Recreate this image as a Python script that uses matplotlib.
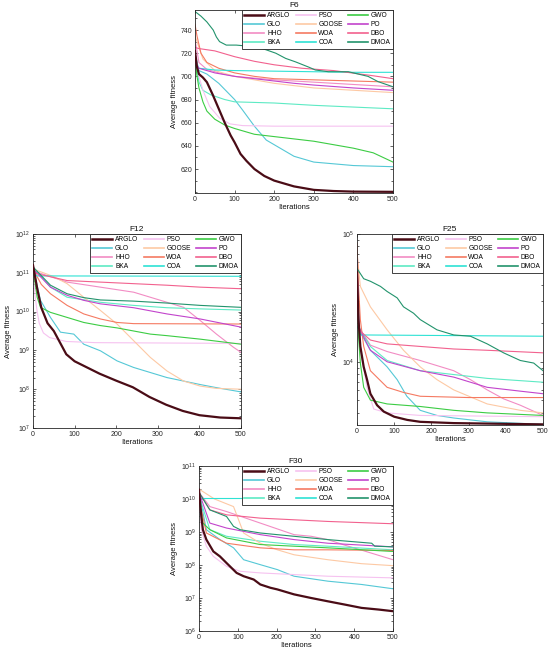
import numpy as np
import matplotlib
matplotlib.use("Agg")
import matplotlib.pyplot as plt
from matplotlib.ticker import AutoMinorLocator, LogLocator, NullFormatter

plt.rcParams['font.family'] = ['Liberation Sans', 'DejaVu Sans']
plt.rcParams['mathtext.fontset'] = 'custom'
plt.rcParams['mathtext.rm'] = 'Liberation Sans'
plt.rcParams['mathtext.it'] = 'Liberation Sans'

algorithms = ["ARGLO", "GLO", "HHO", "BKA", "PSO", "GOOSE", "WOA", "COA", "GWO", "PO", "DBO", "DMOA"]
colors = {
    "ARGLO": "#4a0c16", "GLO": "#55c8d6", "HHO": "#f28cc4", "BKA": "#5eeac4",
    "PSO": "#f6c2f0", "GOOSE": "#fdc9a4", "WOA": "#f57a62", "COA": "#2ee2d4",
    "GWO": "#3ccc44", "PO": "#c244cc", "DBO": "#f2618e", "DMOA": "#22936c",
}

# ---- F6 (linear values) : name -> (iterations, average fitness)
F6 = {
    "ARGLO": ([0,5,10,20,30,45,60,75,90,100,115,130,150,175,200,250,300,350,400,500],
              [722,708,702,699,695,684,672,660,649,643,633,627,620,614,610,605,602,601,600.5,600.3]),
    "GLO": ([0,10,30,60,100,120,150,180,220,250,300,400,500],
            [720,705,702,694,680,671,657,645,637,631,626,623,622]),
    "HHO": ([0,10,30,60,100,200,300,400,500], [732,712,706,703,700,697,695,693,691]),
    "BKA": ([0,10,20,40,75,100,200,300,400,500], [716,695,688,684,680,678,677,675,673.5,672]),
    "PSO": ([0,10,20,37,62,88,120,200,500], [720,700,688,674,664,659,657.5,657,657]),
    "GOOSE": ([0,20,50,100,150,200,250,300,400,500], [735,715,705,700,697,694,692,690,688,686]),
    "WOA": ([0,5,15,30,60,100,150,200,300,400,500], [745,735,720,712,707,703,700,698,697,696,695]),
    "COA": ([0,10,50,100,200,300,400,500], [712,707,705.5,705,704.5,704,703.5,703.5]),
    "GWO": ([0,5,10,20,30,50,75,100,150,200,250,300,350,400,450,500],
            [716,700,690,678,670,663,658,655,650,648,646,644,641,638,634,626]),
    "PO": ([0,10,30,50,100,150,200,250,300,400,500], [712,707,705,703,700,698,696,694,692.5,690,688]),
    "DBO": ([0,10,50,100,150,200,270,350,440,500], [725,724,722,717,713,710,707,705,701,698]),
    "DMOA": ([0,15,30,46,54,62,79,104,154,179,204,229,254,287,304,337,387,437,462,500],
             [756,752,747,740,734,730,727,727,725.5,723,720,715.5,712.5,708,705.5,704,704,700,695.5,691]),
}

# ---- F12 (log10 of average fitness)
F12_log10 = {
    "ARGLO": ([0,5,10,20,35,50,65,80,100,130,160,200,240,280,320,360,400,450,500],
              [11.2,10.9,10.6,10.1,9.7,9.5,9.2,8.9,8.72,8.56,8.4,8.22,8.05,7.8,7.6,7.44,7.33,7.27,7.25]),
    "GLO": ([0,18,42,66,98,122,162,202,242,282,322,362,402,441,500],
            [11.15,10.29,9.85,9.47,9.42,9.16,8.99,8.73,8.56,8.43,8.3,8.21,8.12,8.04,7.93]),
    "HHO": ([0,82,162,242,282,322,362,402,441,482,500],
            [11.05,10.76,10.63,10.5,10.37,10.24,10.11,9.77,9.42,9.08,8.95]),
    "BKA": ([0,42,82,162,242,322,402,500], [11.15,10.63,10.37,10.24,10.16,10.1,10.07,10.04]),
    "PSO": ([0,5,10,15,25,40,80,150,500], [11.1,10.4,10.0,9.7,9.45,9.33,9.23,9.2,9.18]),
    "GOOSE": ([0,50,82,122,162,202,242,282,322,362,402,441,500],
              [11.1,10.9,10.72,10.37,10.03,9.68,9.25,8.82,8.47,8.21,8.08,8.02,8.0]),
    "WOA": ([0,10,20,42,82,122,162,202,242,500], [11.1,10.9,10.7,10.46,10.16,9.94,9.81,9.72,9.69,9.68]),
    "COA": ([0,10,500], [11.0,10.92,10.91]),
    "GWO": ([0,10,18,42,82,122,162,202,242,282,322,402,500],
            [11.1,10.37,10.11,9.98,9.85,9.72,9.64,9.58,9.5,9.42,9.38,9.29,9.16]),
    "PO": ([0,42,82,122,162,242,322,402,500], [11.1,10.63,10.42,10.29,10.2,10.1,9.94,9.81,9.6]),
    "DBO": ([0,82,162,242,322,402,500], [11.0,10.8,10.76,10.72,10.68,10.63,10.59]),
    "DMOA": ([0,42,82,122,162,242,322,402,500], [11.15,10.68,10.46,10.36,10.3,10.27,10.22,10.16,10.11]),
}

# ---- F25 (log10 of average fitness)
F25_log10 = {
    "ARGLO": ([0,4,9,18,27,36,54,72,100,135,170,260,500],
              [4.7,4.33,4.12,3.96,3.86,3.75,3.66,3.61,3.57,3.545,3.53,3.52,3.51]),
    "GLO": ([0,5,36,81,108,134,170,215,260,350,500], [4.8,4.25,4.09,3.96,3.86,3.73,3.62,3.58,3.56,3.53,3.51]),
    "HHO": ([0,5,36,81,170,260,305,350,394,439,500], [4.75,4.27,4.13,4.08,4.01,3.93,3.86,3.78,3.71,3.66,3.58]),
    "BKA": ([0,5,36,81,170,260,350,500], [4.8,4.27,4.12,4.01,3.93,3.9,3.87,3.84]),
    "PSO": ([0,4,9,27,45,81,170,500], [4.75,4.3,4.1,3.8,3.63,3.6,3.58,3.57]),
    "GOOSE": ([0,9,36,81,125,170,215,260,350,439,500], [4.85,4.59,4.43,4.25,4.09,3.96,3.86,3.78,3.67,3.62,3.6]),
    "WOA": ([0,4,9,18,36,81,125,170,300,500], [4.93,4.59,4.33,4.12,3.93,3.8,3.76,3.73,3.72,3.72]),
    "COA": ([0,10,500], [4.28,4.21,4.2]),
    "GWO": ([0,4,9,18,36,81,170,260,350,500], [4.8,4.2,3.99,3.8,3.7,3.67,3.65,3.62,3.6,3.58]),
    "PO": ([0,5,36,81,170,260,350,439,500], [4.8,4.27,4.09,4.0,3.93,3.88,3.8,3.77,3.75]),
    "DBO": ([0,5,36,81,170,260,350,500], [4.75,4.25,4.17,4.14,4.12,4.1,4.09,4.07]),
    "DMOA": ([0,18,36,63,81,108,125,152,170,215,260,305,350,394,439,475,500],
             [4.73,4.65,4.63,4.59,4.55,4.5,4.43,4.38,4.33,4.25,4.21,4.2,4.14,4.07,4.01,3.99,3.93]),
}

# ---- F30 (log10 of average fitness)
F30_log10 = {
    "ARGLO": ([0,6,10,19,37,54,71,97,115,141,158,184,202,245,289,332,376,419,463,500],
              [10.28,9.47,9.07,8.77,8.41,8.26,8.06,7.76,7.66,7.56,7.41,7.31,7.26,7.11,7.0,6.9,6.8,6.7,6.65,6.6]),
    "GLO": ([0,19,54,89,115,158,202,245,332,419,500], [10.2,9.07,8.77,8.52,8.16,8.01,7.86,7.66,7.51,7.41,7.28]),
    "HHO": ([0,28,71,158,245,289,332,376,419,500], [10.2,9.77,9.62,9.27,8.92,8.87,8.77,8.6,8.45,8.16]),
    "BKA": ([0,28,71,158,245,332,500], [10.1,9.07,8.87,8.72,8.62,8.57,8.46]),
    "PSO": ([0,6,19,37,71,106,158,245,332,500], [10.1,9.07,8.57,8.26,7.96,7.81,7.76,7.71,7.66,7.61]),
    "GOOSE": ([0,40,89,115,158,202,245,332,419,500], [10.3,10.0,9.77,8.97,8.66,8.46,8.31,8.16,8.04,7.98]),
    "WOA": ([0,19,71,158,245,332,500], [10.0,8.97,8.66,8.52,8.46,8.46,8.44]),
    "COA": ([0,500], [10.02,10.02]),
    "GWO": ([0,10,28,71,158,245,332,500], [10.0,9.27,9.07,8.82,8.62,8.57,8.52,8.41]),
    "PO": ([0,28,71,158,245,332,500], [10.2,9.27,9.12,8.92,8.77,8.66,8.55]),
    "DBO": ([0,28,71,158,245,332,500], [10.2,9.67,9.52,9.42,9.37,9.32,9.25]),
    "DMOA": ([0,28,71,89,106,158,245,332,445,453,500],
             [10.2,9.67,9.47,9.17,9.07,8.97,8.87,8.77,8.66,8.57,8.55]),
}

W, H = 550, 653
fig = plt.figure(figsize=(W / 100, H / 100), dpi=100)

def rect(x0, y0, x1, y1):
    return [x0 / W, 1 - y1 / H, (x1 - x0) / W, (y1 - y0) / H]

EDGE = "#262626"
TICKFS = 5.0

def style(ax, title):
    for s in ax.spines.values():
        s.set_color(EDGE)
        s.set_linewidth(0.6)
    ax.tick_params(which='both', direction='in', top=True, right=True, colors=EDGE,
                   labelsize=TICKFS, width=0.5, pad=2)
    ax.tick_params(which='major', length=2.5)
    ax.tick_params(which='minor', length=1.4)
    ax.set_title(title, fontsize=6, pad=2, color="#111111")
    ax.set_xlabel("Iterations", fontsize=5.5, labelpad=1, color="#111111")
    ax.set_ylabel("Average fitness", fontsize=5.5, labelpad=2, color="#111111")
    ax.set_xlim(0, 500)
    ax.set_xticks([0, 100, 200, 300, 400, 500])

def draw(ax, data, log):
    handles = []
    for name in algorithms:
        xs, ys = data[name]
        ys = np.array(ys, dtype=float)
        if log:
            ys = 10 ** ys
        lw = 1.6 if name == "ARGLO" else 0.8
        z = 5 if name == "ARGLO" else 2
        h, = ax.plot(xs, ys, color=colors[name], lw=lw, zorder=z, label=name)
        handles.append(h)
    leg = ax.legend(handles=handles, loc='upper right', ncol=3, fontsize=4.8,
                    frameon=True, fancybox=False, borderaxespad=0, handlelength=3.0,
                    handletextpad=0.4, columnspacing=0.8, labelspacing=0.3,
                    borderpad=0.35)
    leg.get_frame().set_edgecolor("#222222")
    leg.get_frame().set_linewidth(0.6)
    leg.get_frame().set_alpha(1)
    for lh in leg.legend_handles:
        lh.set_linewidth(1.2)
    leg.legend_handles[0].set_linewidth(1.8)

# F6
ax1 = fig.add_axes(rect(195, 10, 393, 193))
draw(ax1, F6, False)
style(ax1, "F6")
ax1.set_ylim(599.3, 757.3)
ax1.set_yticks([620, 640, 660, 680, 700, 720, 740])
ax1.yaxis.set_minor_locator(AutoMinorLocator(2))

def logaxis(ax, lo, hi):
    ax.set_yscale('log')
    ax.set_ylim(lo, hi)
    ax.yaxis.set_major_locator(LogLocator(base=10, numticks=20))
    ax.yaxis.set_minor_locator(LogLocator(base=10, subs=np.arange(2, 10), numticks=20))
    ax.yaxis.set_minor_formatter(NullFormatter())

# F12
ax2 = fig.add_axes(rect(33, 234, 241, 428))
draw(ax2, F12_log10, True)
style(ax2, "F12")
logaxis(ax2, 1e7, 1e12)

# F25
ax3 = fig.add_axes(rect(357, 234, 543, 425))
draw(ax3, F25_log10, True)
style(ax3, "F25")
logaxis(ax3, 3200, 1e5)

# F30
ax4 = fig.add_axes(rect(199, 466, 393, 631))
draw(ax4, F30_log10, True)
style(ax4, "F30")
logaxis(ax4, 1e6, 1e11)

fig.savefig("out.png", dpi=100, facecolor="white")
